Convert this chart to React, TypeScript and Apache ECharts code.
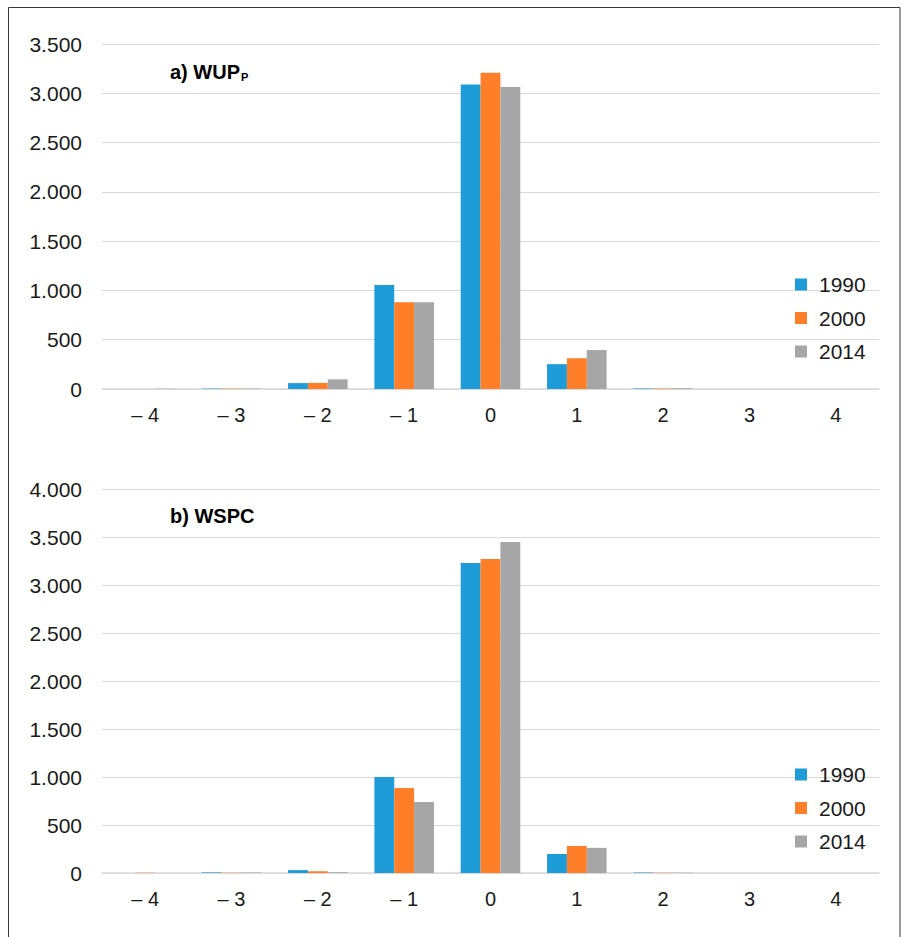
import React, { useEffect, useRef } from "react";
import * as echarts from "echarts";

// Class-change categories shared by both panels
const classSteps = ["– 4", "– 3", "– 2", "– 1", "0", "1", "2", "3", "4"];
const years = ["1990", "2000", "2014"];

// Panel a) WUP_P
const wupP1990 = [0, 4, 60, 1055, 3090, 252, 5, 0, 0];
const wupP2000 = [0, 4, 62, 880, 3208, 312, 5, 0, 0];
const wupP2014 = [3, 4, 98, 880, 3065, 395, 8, 0, 0];

// Panel b) WSPC
const wspc1990 = [0, 6, 30, 1000, 3230, 198, 5, 0, 0];
const wspc2000 = [3, 3, 18, 885, 3272, 281, 3, 0, 0];
const wspc2014 = [0, 5, 8, 740, 3448, 262, 3, 0, 0];

const yTicksA = { min: 0, max: 3500, interval: 500 };
const yTicksB = { min: 0, max: 4000, interval: 500 };

const colors = ["#1E9CD8", "#FE7F28", "#A6A6A6"];
const FONT = "Liberation Sans, Arial, sans-serif";
const TEXT = "#1a1a1a";

const fmtThousands = (v: number) =>
  String(v).replace(/\B(?=(\d{3})+(?!\d))/g, ".");

export default function App() {
  const ref = useRef<HTMLDivElement>(null);

  useEffect(() => {
    if (!ref.current) return;
    const chart = echarts.init(ref.current, undefined, { renderer: "svg" });

    const grids = [
      { left: 102, width: 777, top: 44, height: 345 },
      { left: 102, width: 777, top: 489, height: 384 },
    ];

    const xAxis = grids.map((_, i) => ({
      type: "category" as const,
      gridIndex: i,
      data: classSteps,
      axisLine: { lineStyle: { color: "#d9d9d9", width: 1.5 } },
      axisTick: { show: false },
      axisLabel: { color: TEXT, fontSize: 20, fontFamily: FONT, margin: 16 },
    }));

    const yAxis = [yTicksA, yTicksB].map((t, i) => ({
      type: "value" as const,
      gridIndex: i,
      min: t.min,
      max: t.max,
      interval: t.interval,
      axisLine: { show: false },
      axisTick: { show: false },
      splitLine: { lineStyle: { color: "#d9d9d9", width: 1 } },
      axisLabel: {
        color: TEXT,
        fontSize: 21,
        fontFamily: FONT,
        margin: 20,
        formatter: fmtThousands,
      },
    }));

    const panelData = [
      [wupP1990, wupP2000, wupP2014],
      [wspc1990, wspc2000, wspc2014],
    ];

    const series: any[] = [];
    panelData.forEach((set, gi) => {
      set.forEach((vals, si) => {
        series.push({
          type: "bar",
          name: years[si],
          xAxisIndex: gi,
          yAxisIndex: gi,
          data: vals,
          barGap: "0%",
          barCategoryGap: "31%",
          itemStyle: { color: colors[si] },
        });
      });
    });

    const legendBase = {
      orient: "vertical" as const,
      left: 790,
      itemWidth: 12,
      itemHeight: 12,
      itemGap: 12.5,
      icon: "rect",
      data: years,
      textStyle: {
        color: TEXT,
        fontSize: 21,
        fontFamily: FONT,
        padding: [0, 0, 0, 7],
      },
    };

    const titleRich = {
      main: { fontSize: 20, fontWeight: "bold" as const, color: "#000", fontFamily: FONT },
      sub: {
        fontSize: 11,
        fontWeight: "bold" as const,
        color: "#000",
        fontFamily: FONT,
        padding: [10, 0, 0, 1],
      },
    };

    chart.setOption({
      animation: false,
      backgroundColor: "#fff",
      color: colors,
      title: [
        {
          text: "{main|a) WUP}{sub|P}",
          left: 165,
          top: 56,
          textStyle: { rich: titleRich },
        },
        {
          text: "{main|b) WSPC}",
          left: 165,
          top: 501,
          textStyle: { rich: titleRich },
        },
      ],
      legend: [
        { ...legendBase, top: 269 },
        { ...legendBase, top: 759 },
      ],
      grid: grids,
      xAxis,
      yAxis,
      series,
      graphic: [
        {
          type: "rect",
          shape: { x: 8.5, y: 7.5, width: 891.5, height: 940 },
          style: { fill: "none", stroke: "#3a3a3a", lineWidth: 1 },
          silent: true,
        },
      ],
    });

    return () => chart.dispose();
  }, []);

  return (
    <div
      ref={ref}
      style={{ position: "absolute", left: 0, top: 0, width: 904, height: 937 }}
    />
  );
}
